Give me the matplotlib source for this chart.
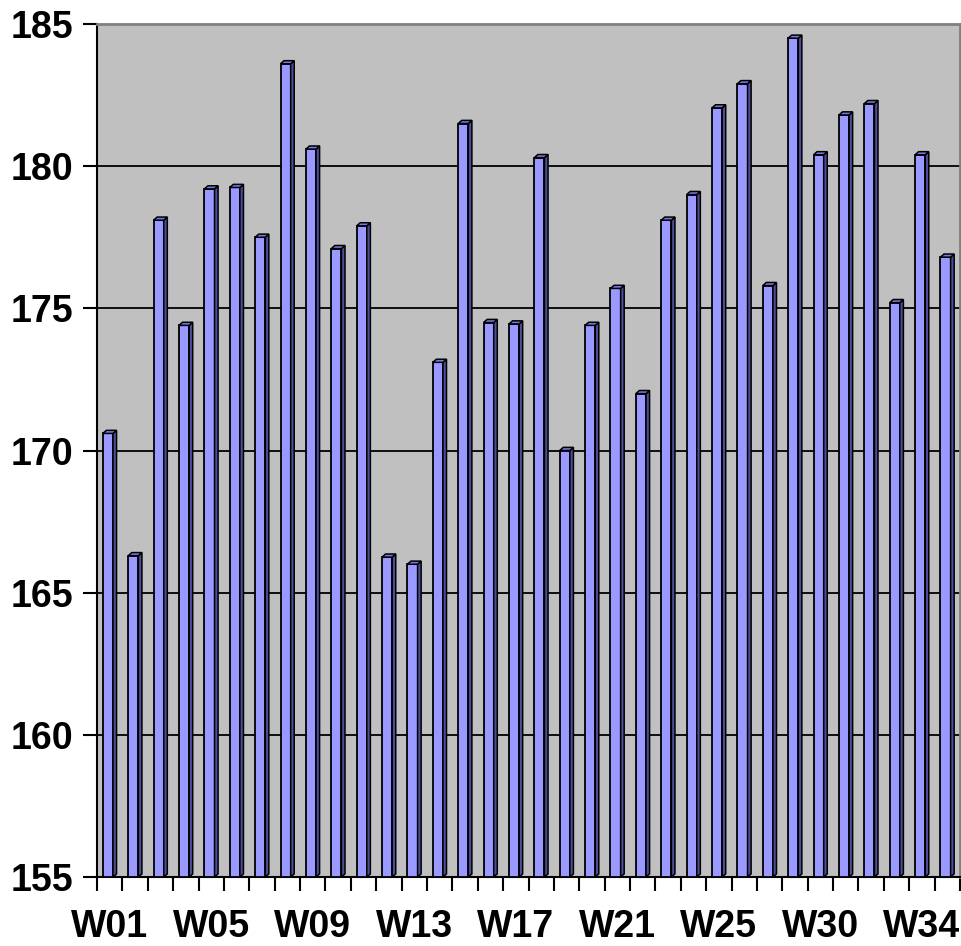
import numpy as np
import matplotlib.pyplot as plt
from matplotlib.patches import Polygon

# weekly values
weeks = ['W01', 'W02', 'W03', 'W04', 'W05', 'W06', 'W07', 'W08', 'W09', 'W10',
         'W11', 'W12', 'W13', 'W14', 'W15', 'W16', 'W17', 'W18', 'W19', 'W20',
         'W21', 'W22', 'W23', 'W24', 'W25', 'W26', 'W27', 'W29', 'W30', 'W31',
         'W32', 'W33', 'W34', 'W35']
values = [170.6, 166.3, 178.1, 174.4, 179.2, 179.25, 177.5, 183.6, 180.6, 177.1,
          177.9, 166.25, 166.0, 173.1, 181.5, 174.5, 174.45, 180.3, 170.0, 174.4,
          175.7, 172.0, 178.1, 179.0, 182.05, 182.9, 175.8, 184.5, 180.4, 181.8,
          182.2, 175.2, 180.4, 176.8]
ymin, ymax = 155, 185
yticks = [155, 160, 165, 170, 175, 180, 185]

front = '#9999FF'
side = '#4D4D99'
top = '#7777DD'

plt.rcParams['font.family'] = ['Liberation Sans', 'DejaVu Sans']

fig = plt.figure(figsize=(9.61, 9.46), dpi=100)
ax = fig.add_axes([97 / 961, 69 / 946, 863 / 961, 853 / 946])
ax.set_facecolor('#C0C0C0')

x = np.arange(1, len(values) + 1)
w = 0.4
dx = 0.14   # depth of the fake 3D
dy = 0.11

ax.bar(x - 0.07, np.array(values) - ymin, bottom=ymin, width=w, color=front,
       edgecolor='black', linewidth=1.3, zorder=3)
for xi, v in zip(x, values):
    r = xi - 0.07 + w / 2
    l = xi - 0.07 - w / 2
    ax.add_patch(Polygon([(r, ymin), (r + dx, ymin + dy), (r + dx, v + dy), (r, v)],
                         closed=True, facecolor=side, edgecolor='black',
                         linewidth=1.1, zorder=3))
    ax.add_patch(Polygon([(l, v), (l + dx, v + dy), (r + dx, v + dy), (r, v)],
                         closed=True, facecolor=top, edgecolor='black',
                         linewidth=1.1, zorder=3))

ax.set_xlim(0.5, len(values) + 0.5)
ax.set_ylim(ymin, ymax)
ax.set_yticks(yticks)
ax.yaxis.grid(True, color='black', linewidth=1.3, zorder=1)
ax.set_axisbelow(True)

ax.set_xticks(x[::4])
ax.set_xticklabels(weeks[::4])
ax.set_xticks(np.arange(0.5, len(values) + 1), minor=True)
ax.tick_params(axis='x', which='major', length=0, pad=23, labelsize=27)
ax.tick_params(axis='x', which='minor', length=10, width=1.5, direction='out')
ax.tick_params(axis='y', length=10, width=1.5, pad=7, labelsize=27)
for lab in ax.get_xticklabels() + ax.get_yticklabels():
    lab.set_fontweight('bold')

ax.spines['left'].set_color('black')
ax.spines['left'].set_linewidth(1.5)
ax.spines['bottom'].set_color('black')
ax.spines['bottom'].set_linewidth(1.5)
ax.spines['top'].set_color('#808080')
ax.spines['top'].set_linewidth(2)
ax.spines['right'].set_color('#808080')
ax.spines['right'].set_linewidth(2)

fig.savefig('out.png', dpi=100)
